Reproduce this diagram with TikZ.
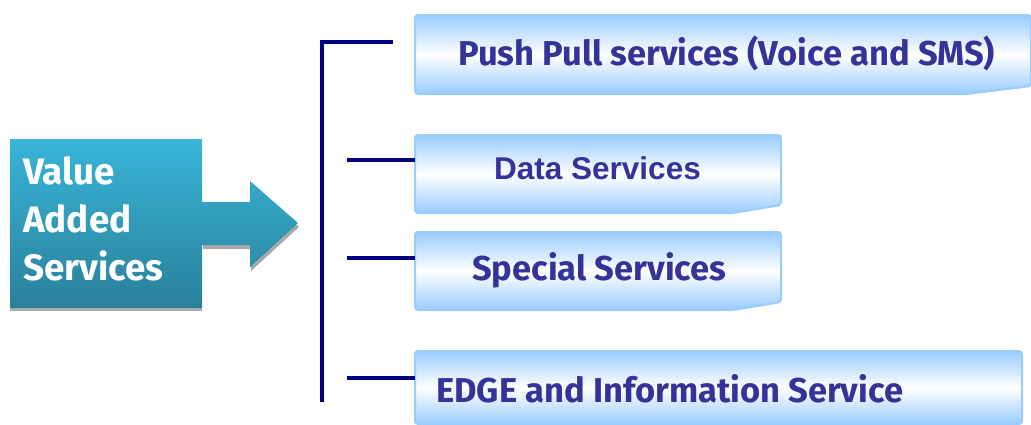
\documentclass[tikz,border=0pt]{standalone}
\usepackage{fontspec}
\setmainfont{Fira Sans}
\newfontfamily\arialfont{Liberation Sans}
\definecolor{navyline}{RGB}{0,0,128}
\definecolor{servtext}{RGB}{51,51,153}
\definecolor{servblue}{RGB}{153,204,255}
\definecolor{tealtop}{RGB}{56,181,216}
\definecolor{tealbot}{RGB}{42,128,154}
\definecolor{shadowgray}{RGB}{168,168,168}
\tikzset{
  servbox/.style={draw=servblue, line width=2pt, rounded corners=3pt,
    top color=servblue, bottom color=servblue, middle color=white},
  servlabel/.style={text=servtext, font=\bfseries\fontsize{34.5}{40}\selectfont,
    inner sep=0pt, anchor=west},
  bracket/.style={draw=navyline, line width=4.5pt},
}
\begin{document}
\begin{tikzpicture}[x=1pt,y=-1pt]
      \useasboundingbox (0,0) rectangle (1031,424);
      % value added services box and arrow
      \fill[shadowgray] (10,143) rectangle (202,311);
      \fill[shadowgray] (203,206) -- (251,206) -- (251,185) -- (299,227)
        -- (251,271) -- (251,249) -- (203,249) -- cycle;
      \shade[top color=tealtop, bottom color=tealbot] (10,139) rectangle (202,307);
      \shade[top color=tealtop!75!tealbot, bottom color=tealtop!24!tealbot]
        (201,202) -- (250,202) -- (250,181) -- (298,223)
        -- (250,267) -- (250,245) -- (201,245) -- cycle;
      \node[anchor=north west, align=left, text=white, inner sep=0pt,
        font=\bfseries\fontsize{36.8}{48}\selectfont] (vas) at (23,156)
        {Value\\Added\\Services};
      % service boxes
      \path[servbox] (415,15) -- (1031,15) -- (1031,86) -- (967,94)
        -- (415,94) -- cycle;
      \path[servbox] (415,135) -- (781,135) -- (781,205) -- (733,213)
        -- (415,213) -- cycle;
      \path[servbox] (415,232) -- (781,232) -- (781,302) -- (733,310)
        -- (415,310) -- cycle;
      \path[servbox] (415,351) -- (1022,351) -- (1022,424)
        -- (415,424) -- cycle;
      \node[servlabel] (push) at (458,53) {Push Pull services (Voice and SMS)};
      \node[servlabel, font=\arialfont\bfseries\fontsize{31.5}{36}\selectfont]
        (data) at (494,168) {Data Services};
      \node[servlabel] (special) at (472,270) {Special Services};
      \node[servlabel] (edge) at (436,389) {EDGE and Information Service};
      % bracket
      \coordinate (brtop) at (322,42);
      \coordinate (brbot) at (322,402);
      \coordinate (pushend) at (393,42);
      \coordinate (datal) at (415,160);
      \coordinate (speciall) at (415,258);
      \coordinate (edgel) at (415,378);
      \begin{scope}[bracket]
        \draw ([xshift=-2.25pt]brtop) -- (pushend);
        \draw (brtop) -- (brbot);
        \draw (brtop |- datal) ++(25,0) -- (datal);
        \draw (brtop |- speciall) ++(25,0) -- (speciall);
        \draw (brtop |- edgel) ++(25,0) -- (edgel);
      \end{scope}
    \end{tikzpicture}
\end{document}
